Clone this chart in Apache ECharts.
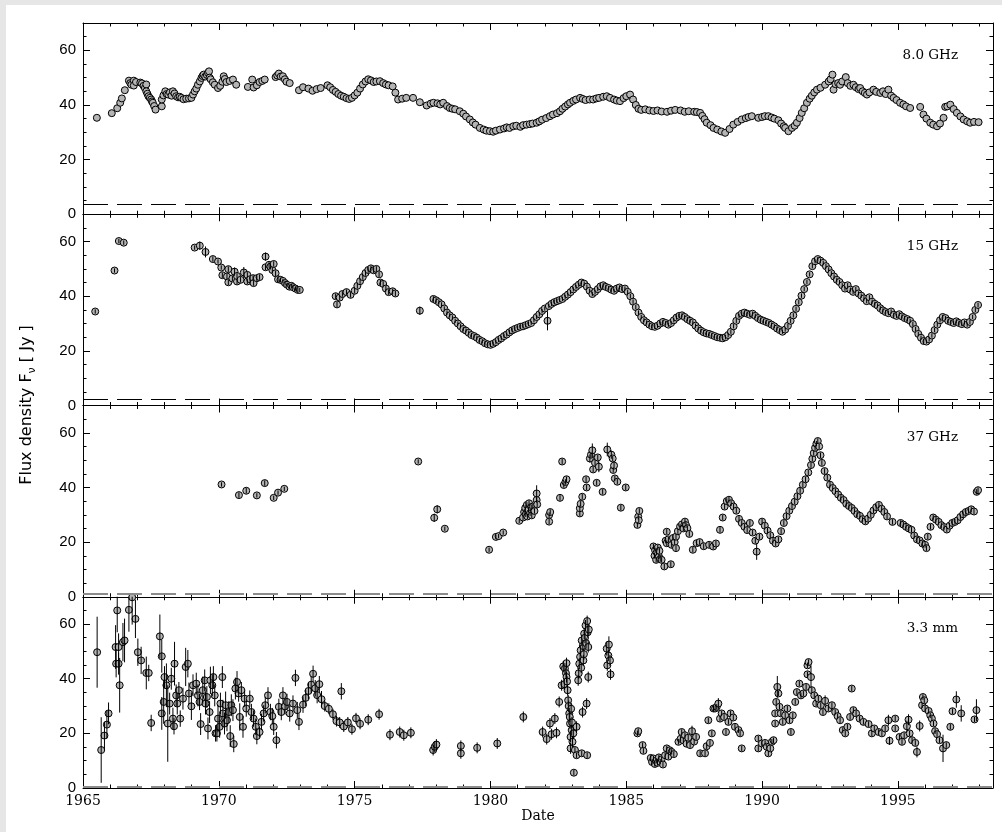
<!DOCTYPE html>
<html>
<head>
<meta charset="utf-8">
<script src="https://cdn.jsdelivr.net/npm/echarts@6/dist/echarts.min.js"></script>
<style>
html,body{margin:0;padding:0;background:#e6e6e6;}
#bg{position:absolute;left:6px;top:5px;width:996px;height:827px;background:#fff;}
#chart{position:absolute;left:0;top:0;width:1002px;height:832px;}
</style>
</head>
<body>
<div id="bg"></div>
<div id="chart"></div>
<script>
// ---------------- data ----------------
const X_MIN = 1965, X_MAX = 1998.5;
const Y_MIN = 0, Y_MAX = 70;
const xTickLabels = [1965, 1970, 1975, 1980, 1985, 1990, 1995];
const yTickLabels = [0, 20, 40, 60];
const panelNames = ['8.0 GHz', '15 GHz', '37 GHz', '3.3 mm'];
const baselines = [3.8, 2.3, 1.0, 0.6];

// 8.0 GHz : [date, flux]
const s8 = [
[1965.51,35.3],[1966.06,37.0],[1966.26,38.8],[1966.37,40.8],[1966.43,42.4],[1966.54,45.4],[1966.69,48.9],[1966.74,48.0],
[1966.78,47.4],[1966.87,48.9],[1966.87,47.1],[1966.95,48.4],[1967.11,48.2],[1967.17,47.9],[1967.23,47.0],[1967.28,46.2],
[1967.33,47.5],[1967.33,45.0],[1967.37,44.1],[1967.41,43.2],[1967.46,42.6],[1967.51,42.0],[1967.54,41.3],[1967.57,40.8],
[1967.62,39.6],[1967.67,38.3],[1967.90,39.5],[1967.90,42.0],[1967.96,43.5],[1968.03,45.0],[1968.08,44.0],[1968.14,43.8],
[1968.20,44.6],[1968.26,43.4],[1968.31,45.0],[1968.37,44.2],[1968.43,43.2],[1968.50,42.8],[1968.56,43.0],[1968.62,42.6],
[1968.70,42.1],[1968.80,42.3],[1968.90,42.4],[1968.99,42.6],[1969.05,43.8],[1969.11,45.0],[1969.17,46.0],[1969.23,47.4],
[1969.30,48.6],[1969.36,49.9],[1969.40,50.6],[1969.44,51.1],[1969.50,50.4],[1969.56,51.0],[1969.60,51.8],[1969.64,52.3],
[1969.66,50.0],[1969.70,49.4],[1969.78,48.3],[1969.85,47.4],[1969.97,46.2],[1970.05,47.0],[1970.13,48.5],[1970.18,50.5],
[1970.22,49.5],[1970.28,48.4],[1970.40,48.8],[1970.52,49.3],[1970.64,47.4],[1971.07,46.6],[1971.23,49.3],[1971.28,46.4],
[1971.40,47.2],[1971.50,48.4],[1971.60,48.8],[1971.69,49.3],[1972.09,50.2],[1972.15,50.8],[1972.21,51.5],[1972.28,50.4],
[1972.36,50.5],[1972.43,49.4],[1972.49,48.5],[1972.61,48.0],[1972.95,45.4],[1973.10,46.5],[1973.30,46.0],[1973.45,45.2],
[1973.60,45.8],[1973.75,46.2],[1974.00,47.2],[1974.10,46.5],[1974.20,45.5],[1974.30,44.8],[1974.40,44.0],[1974.50,43.4],
[1974.60,43.0],[1974.70,42.5],[1974.80,42.2],[1974.90,42.6],[1975.00,43.5],[1975.10,44.5],[1975.20,46.0],[1975.30,47.5],
[1975.40,48.6],[1975.50,49.4],[1975.60,49.0],[1975.70,48.4],[1975.80,48.6],[1975.93,48.7],[1976.05,48.0],[1976.15,47.5],
[1976.25,47.2],[1976.40,46.8],[1976.50,44.5],[1976.60,42.0],[1976.75,42.3],[1976.90,42.6],[1977.15,42.6],[1977.40,41.0],
[1977.65,39.8],[1977.80,40.5],[1977.90,40.8],[1978.05,40.6],[1978.15,40.2],[1978.26,40.8],[1978.40,39.6],[1978.50,38.9],
[1978.60,38.6],[1978.70,38.4],[1978.87,37.7],[1979.00,36.8],[1979.10,35.8],[1979.24,34.7],[1979.35,33.6],[1979.45,32.8],
[1979.61,31.6],[1979.75,31.0],[1979.85,30.6],[1979.98,30.4],[1980.10,30.2],[1980.20,30.6],[1980.35,31.0],[1980.50,31.4],
[1980.60,31.8],[1980.70,31.6],[1980.84,32.2],[1980.95,32.4],[1981.10,32.0],[1981.20,32.6],[1981.33,32.8],[1981.45,33.0],
[1981.55,33.2],[1981.70,33.5],[1981.80,34.0],[1981.90,34.6],[1982.05,35.2],[1982.19,35.9],[1982.30,36.5],[1982.45,37.0],
[1982.56,37.7],[1982.65,38.6],[1982.75,39.4],[1982.85,40.2],[1982.93,40.8],[1983.05,41.5],[1983.15,42.0],[1983.30,42.6],
[1983.40,42.2],[1983.50,41.8],[1983.65,42.0],[1983.78,42.0],[1983.90,42.4],[1984.00,42.6],[1984.15,43.0],[1984.28,43.2],
[1984.40,42.6],[1984.55,42.0],[1984.65,41.6],[1984.77,41.4],[1984.90,42.5],[1985.00,43.2],[1985.14,43.8],[1985.25,42.0],
[1985.35,40.0],[1985.45,38.6],[1985.55,38.2],[1985.70,38.4],[1985.85,38.0],[1986.00,37.8],[1986.15,38.0],[1986.30,37.6],
[1986.50,37.5],[1986.65,37.9],[1986.80,38.2],[1987.00,38.0],[1987.15,37.5],[1987.30,37.7],[1987.50,37.5],[1987.60,37.4],
[1987.72,37.1],[1987.80,36.0],[1987.88,34.8],[1987.96,33.5],[1988.10,32.6],[1988.21,31.6],[1988.35,31.0],[1988.50,30.3],
[1988.64,29.8],[1988.80,31.2],[1988.94,32.8],[1989.10,33.8],[1989.25,34.7],[1989.40,35.2],[1989.50,35.6],[1989.62,35.9],
[1989.86,35.3],[1990.00,35.6],[1990.10,35.9],[1990.23,35.9],[1990.35,35.4],[1990.45,35.0],[1990.60,34.4],[1990.70,33.2],
[1990.80,32.2],[1990.85,31.6],[1990.97,30.4],[1991.10,31.6],[1991.20,32.4],[1991.28,33.5],[1991.38,35.2],[1991.46,37.1],
[1991.55,38.8],[1991.65,40.8],[1991.75,42.3],[1991.83,43.4],[1991.92,44.6],[1992.02,45.6],[1992.15,46.3],[1992.32,47.4],
[1992.45,48.6],[1992.52,49.4],[1992.59,51.1],[1992.63,45.6],[1992.70,47.6],[1992.80,48.0],[1992.87,47.4],[1992.95,48.6],
[1993.08,50.2],[1993.15,48.0],[1993.25,47.0],[1993.36,47.4],[1993.45,46.5],[1993.55,45.8],[1993.61,46.2],[1993.70,45.0],
[1993.78,44.4],[1993.86,43.8],[1993.95,44.6],[1994.10,45.6],[1994.20,44.8],[1994.35,44.4],[1994.45,45.0],[1994.55,44.0],
[1994.65,45.6],[1994.75,43.4],[1994.84,42.6],[1994.95,41.8],[1995.08,40.8],[1995.20,40.2],[1995.30,39.5],[1995.45,38.9],
[1995.82,39.3],[1995.94,36.5],[1996.05,35.0],[1996.19,33.5],[1996.30,32.8],[1996.44,32.2],[1996.55,33.2],[1996.68,35.3],
[1996.74,39.3],[1996.82,39.5],[1996.93,40.1],[1997.05,38.5],[1997.17,37.1],[1997.30,35.8],[1997.42,34.7],[1997.55,34.0],
[1997.66,33.5],[1997.80,33.8],[1997.97,33.7]
];

// 15 GHz : [date, flux, error]
const s15 = [
[1965.45,34.4,0.8],[1966.16,49.4,0.8],[1966.32,60.2,0.8],[1966.50,59.6,0.8],[1969.11,57.8,0.8],[1969.30,58.5,1.5],[1969.51,56.2,2.0],
[1969.78,53.6,1.0],[1969.97,52.7,0.8],[1970.09,50.5,0.8],[1970.13,47.7,1.0],[1970.30,47.2,1.0],[1970.35,49.9,1.0],[1970.35,45.1,1.0],
[1970.50,46.5,1.0],[1970.58,49.0,1.5],[1970.67,45.4,1.0],[1970.67,47.4,1.0],[1970.80,46.0,1.0],[1970.92,48.7,2.0],[1971.05,47.8,1.0],
[1971.05,45.4,1.0],[1971.15,46.2,1.0],[1971.26,46.6,1.0],[1971.28,44.8,1.0],[1971.40,46.6,1.0],[1971.50,47.0,1.0],[1971.72,54.5,1.5],
[1971.72,50.6,1.0],[1971.85,51.5,1.0],[1971.90,50.8,1.0],[1971.97,49.6,1.0],[1972.02,51.8,1.0],[1972.09,48.4,1.0],[1972.18,46.2,1.0],
[1972.27,46.0,0.8],[1972.36,45.6,0.8],[1972.44,44.8,0.8],[1972.51,44.2,0.8],[1972.60,43.5,0.8],[1972.67,43.8,0.8],[1972.73,43.3,0.8],
[1972.82,42.8,0.8],[1972.91,42.3,0.8],[1972.98,42.3,0.8],[1974.30,40.0,1.0],[1974.35,37.0,1.0],[1974.45,39.5,1.0],[1974.55,40.8,1.0],
[1974.70,41.5,1.0],[1974.85,40.5,1.0],[1975.00,42.0,1.0],[1975.10,43.8,1.0],[1975.20,45.5,1.0],[1975.30,47.0,1.0],[1975.40,48.5,1.0],
[1975.50,49.6,1.0],[1975.60,50.2,1.0],[1975.70,49.5,1.0],[1975.80,50.0,1.0],[1975.90,48.0,1.0],[1975.95,45.0,1.0],[1976.05,44.5,1.0],
[1976.15,42.8,1.0],[1976.25,41.5,1.0],[1976.40,41.8,1.0],[1976.50,41.0,1.0],[1977.40,34.7,1.5],[1977.90,39.0,1.0],[1978.00,38.5,1.0],
[1978.10,37.8,0.8],[1978.20,37.0,0.8],[1978.30,35.5,0.8],[1978.40,34.0,0.8],[1978.50,33.0,0.8],[1978.60,32.2,0.8],[1978.70,31.0,0.8],
[1978.80,30.0,0.8],[1978.90,29.0,0.8],[1979.00,28.0,0.8],[1979.10,27.4,0.8],[1979.20,26.6,0.8],[1979.30,25.8,0.8],[1979.40,25.4,0.8],
[1979.50,24.8,0.8],[1979.60,24.0,0.8],[1979.70,23.5,0.8],[1979.80,22.8,0.8],[1979.90,22.4,0.8],[1980.00,22.2,0.8],[1980.10,22.6,0.8],
[1980.20,23.2,0.8],[1980.30,24.0,0.8],[1980.40,24.6,0.8],[1980.50,25.4,0.8],[1980.60,26.0,0.8],[1980.70,26.8,0.8],[1980.80,27.5,0.8],
[1980.90,28.0,0.8],[1981.00,28.4,0.8],[1981.10,28.8,0.8],[1981.20,29.0,0.8],[1981.30,29.4,0.8],[1981.40,29.8,0.8],[1981.50,30.2,0.8],
[1981.60,31.2,0.8],[1981.70,32.4,0.8],[1981.80,33.4,0.8],[1981.90,34.6,0.8],[1982.00,35.5,0.8],[1982.10,31.0,3.5],[1982.15,36.4,0.8],
[1982.25,37.2,0.8],[1982.35,37.8,0.8],[1982.45,38.2,0.8],[1982.55,38.6,0.8],[1982.65,39.0,0.8],[1982.75,39.8,0.8],[1982.85,40.6,0.8],
[1982.95,41.5,0.8],[1983.05,42.5,0.8],[1983.15,43.4,0.8],[1983.25,44.2,0.8],[1983.35,45.0,0.8],[1983.45,44.6,0.8],[1983.55,43.5,0.8],
[1983.65,42.0,0.8],[1983.75,40.8,0.8],[1983.85,41.6,0.8],[1983.95,42.6,0.8],[1984.05,43.6,0.8],[1984.15,44.0,0.8],[1984.25,43.4,0.8],
[1984.35,43.0,0.8],[1984.45,42.4,0.8],[1984.55,42.0,0.8],[1984.65,42.8,0.8],[1984.75,43.2,0.8],[1984.85,42.6,0.8],[1984.95,42.8,0.8],
[1985.05,41.6,0.8],[1985.15,40.0,0.8],[1985.25,38.0,0.8],[1985.35,36.0,0.8],[1985.45,34.0,0.8],[1985.55,32.4,0.8],[1985.65,31.2,0.8],
[1985.75,30.4,0.8],[1985.85,29.6,0.8],[1985.95,29.0,0.8],[1986.05,28.8,0.8],[1986.15,29.2,0.8],[1986.25,30.0,0.8],[1986.35,30.6,0.8],
[1986.45,30.2,0.8],[1986.55,29.6,0.8],[1986.65,30.2,0.8],[1986.75,31.2,0.8],[1986.85,32.2,0.8],[1986.95,32.8,0.8],[1987.05,33.0,0.8],
[1987.15,32.4,0.8],[1987.25,31.6,0.8],[1987.35,31.0,0.8],[1987.45,30.4,0.8],[1987.55,29.2,0.8],[1987.65,28.2,0.8],[1987.75,27.4,0.8],
[1987.85,26.8,0.8],[1987.95,26.4,0.8],[1988.05,26.2,0.8],[1988.15,25.8,0.8],[1988.25,25.4,0.8],[1988.35,25.0,0.8],[1988.45,24.8,0.8],
[1988.55,24.6,0.8],[1988.65,25.0,0.8],[1988.75,25.8,0.8],[1988.85,27.0,0.8],[1988.95,29.0,0.8],[1989.05,31.0,0.8],[1989.15,32.8,0.8],
[1989.25,33.6,0.8],[1989.35,34.0,0.8],[1989.45,33.6,0.8],[1989.55,33.2,0.8],[1989.65,33.6,0.8],[1989.75,32.8,0.8],[1989.85,32.0,0.8],
[1989.95,31.4,0.8],[1990.05,31.0,0.8],[1990.15,30.6,0.8],[1990.25,30.2,0.8],[1990.35,29.6,0.8],[1990.45,29.0,0.8],[1990.55,28.2,0.8],
[1990.65,27.6,0.8],[1990.75,27.0,0.8],[1990.85,27.8,0.8],[1990.95,29.2,0.8],[1991.05,31.0,0.8],[1991.15,33.0,0.8],[1991.25,35.4,0.8],
[1991.35,37.8,0.8],[1991.45,40.2,0.8],[1991.55,42.6,0.8],[1991.65,45.2,0.8],[1991.75,48.0,0.8],[1991.85,51.0,0.8],[1991.95,52.8,0.8],
[1992.05,53.6,0.8],[1992.15,53.0,0.8],[1992.25,52.2,0.8],[1992.35,51.0,0.8],[1992.45,49.8,0.8],[1992.55,48.4,0.8],[1992.65,47.2,0.8],
[1992.75,46.0,0.8],[1992.85,45.2,0.8],[1992.95,44.0,0.8],[1993.05,42.8,0.8],[1993.15,44.0,0.8],[1993.25,42.4,0.8],[1993.35,41.6,0.8],
[1993.45,42.6,0.8],[1993.55,41.0,0.8],[1993.65,40.2,0.8],[1993.75,39.2,0.8],[1993.85,38.2,0.8],[1993.95,39.6,0.8],[1994.05,38.0,0.8],
[1994.15,37.2,0.8],[1994.25,36.6,0.8],[1994.35,35.6,0.8],[1994.45,34.8,0.8],[1994.55,34.2,0.8],[1994.65,33.8,0.8],[1994.75,34.4,0.8],
[1994.85,33.2,0.8],[1994.95,32.8,0.8],[1995.05,33.4,0.8],[1995.15,32.6,0.8],[1995.25,32.0,0.8],[1995.35,31.6,0.8],[1995.45,31.0,0.8],
[1995.55,29.8,0.8],[1995.65,28.0,0.8],[1995.75,26.2,0.8],[1995.85,24.8,0.8],[1995.95,23.6,0.8],[1996.05,23.4,0.8],[1996.15,24.2,0.8],
[1996.25,25.6,0.8],[1996.35,27.6,0.8],[1996.45,29.6,0.8],[1996.55,31.2,0.8],[1996.65,32.4,0.8],[1996.75,32.0,0.8],[1996.85,31.0,0.8],
[1996.95,30.6,0.8],[1997.05,30.2,0.8],[1997.15,30.8,0.8],[1997.25,30.2,0.8],[1997.35,29.8,0.8],[1997.45,30.4,0.8],[1997.55,29.6,0.8],
[1997.65,30.6,0.8],[1997.75,32.4,0.8],[1997.85,35.0,0.8],[1997.95,36.8,0.8]
];

// 37 GHz : [date, flux, error]
const s37 = [
[1970.10,41.1,0.8],[1970.74,37.2,1.0],[1971.01,38.8,1.0],[1971.40,37.1,0.8],[1971.69,41.6,1.0],[1972.02,36.2,0.8],[1972.18,38.1,0.8],
[1972.41,39.5,0.8],[1977.34,49.5,0.8],[1977.93,28.9,1.5],[1978.04,32.0,1.5],[1978.32,24.9,0.8],[1979.95,17.2,0.8],[1980.20,21.9,0.8],
[1980.30,22.2,0.8],[1980.47,23.5,0.8],[1981.06,27.8,0.8],[1981.20,29.0,1.0],[1981.24,31.0,1.0],[1981.28,32.5,1.0],[1981.30,30.2,1.0],
[1981.34,33.6,1.0],[1981.36,29.4,1.0],[1981.40,31.8,1.0],[1981.42,34.2,1.0],[1981.46,30.6,1.0],[1981.50,32.8,1.0],[1981.52,29.8,1.0],
[1981.56,33.0,1.0],[1981.62,31.4,1.0],[1981.70,37.8,3.0],[1981.70,35.4,1.0],[1981.72,33.8,1.0],[1982.16,29.9,1.0],[1982.16,27.5,1.0],
[1982.20,31.0,1.0],[1982.56,36.2,1.0],[1982.64,49.5,1.0],[1982.70,40.9,1.0],[1982.76,42.0,1.0],[1982.80,43.0,1.0],[1983.29,30.5,1.0],
[1983.29,32.4,1.0],[1983.32,34.0,1.0],[1983.38,36.6,1.0],[1983.52,43.0,1.0],[1983.54,40.0,1.0],[1983.66,50.6,1.5],[1983.70,52.0,1.0],
[1983.75,53.6,2.5],[1983.78,46.6,1.0],[1983.85,49.0,1.0],[1983.91,41.7,1.0],[1983.95,51.0,1.0],[1983.99,47.6,2.0],[1984.13,38.4,1.0],
[1984.30,53.9,2.5],[1984.45,52.0,1.5],[1984.50,50.6,1.0],[1984.52,46.4,1.0],[1984.55,48.0,1.0],[1984.58,43.3,1.0],[1984.67,42.1,1.0],
[1984.80,32.6,1.0],[1984.98,40.0,1.0],[1985.41,26.3,1.0],[1985.44,29.3,1.0],[1985.48,31.4,1.0],[1985.46,28.0,1.0],[1986.00,18.4,1.0],
[1986.04,15.0,1.0],[1986.06,17.0,1.0],[1986.10,13.5,1.0],[1986.12,16.2,1.0],[1986.16,18.0,1.0],[1986.20,14.8,1.0],[1986.22,16.8,1.0],
[1986.25,13.8,1.0],[1986.30,13.5,1.0],[1986.40,11.1,1.0],[1986.45,20.5,1.0],[1986.49,23.8,1.0],[1986.49,19.6,1.0],[1986.55,21.0,1.0],
[1986.64,11.9,1.0],[1986.67,19.0,1.0],[1986.72,21.5,1.0],[1986.78,20.0,1.0],[1986.83,17.8,1.0],[1986.83,22.0,1.0],[1986.90,24.0,1.0],
[1986.98,25.7,1.0],[1987.05,26.5,1.0],[1987.10,25.0,1.0],[1987.16,27.5,1.0],[1987.20,26.2,1.0],[1987.25,25.1,1.0],[1987.32,23.0,1.0],
[1987.45,17.2,1.0],[1987.59,19.6,1.0],[1987.70,20.0,1.0],[1987.85,18.5,1.0],[1988.05,19.0,1.0],[1988.20,18.4,1.0],[1988.30,19.5,1.0],
[1988.45,24.5,1.0],[1988.55,29.0,1.0],[1988.62,33.0,1.0],[1988.70,35.0,1.0],[1988.78,35.5,1.0],[1988.86,34.2,1.0],[1988.95,33.0,1.0],
[1989.05,31.5,1.0],[1989.15,28.5,1.0],[1989.25,27.0,1.0],[1989.35,25.6,1.0],[1989.45,24.4,1.0],[1989.55,27.0,1.0],[1989.65,23.5,1.0],
[1989.75,20.5,1.0],[1989.80,16.5,3.0],[1989.90,22.0,1.0],[1990.00,27.5,1.0],[1990.10,26.0,1.0],[1990.20,24.2,1.0],[1990.30,22.5,1.0],
[1990.40,20.5,1.0],[1990.50,19.5,1.0],[1990.60,21.0,1.0],[1990.70,24.0,1.0],[1990.80,27.0,1.0],[1990.90,29.5,1.0],[1991.00,31.5,1.0],
[1991.10,33.2,1.0],[1991.20,34.8,1.0],[1991.30,36.8,1.0],[1991.40,38.8,1.0],[1991.50,41.0,1.0],[1991.60,43.0,1.0],[1991.70,45.5,1.0],
[1991.80,48.2,1.0],[1991.85,50.5,1.0],[1991.90,52.6,1.0],[1991.95,54.5,1.0],[1992.00,56.0,1.0],[1992.05,57.0,1.0],[1992.10,55.0,1.0],
[1992.15,51.8,1.0],[1992.20,49.0,1.0],[1992.30,46.0,1.0],[1992.40,43.6,1.0],[1992.50,41.0,1.0],[1992.60,39.8,1.0],[1992.70,38.6,1.0],
[1992.80,37.4,1.0],[1992.90,36.2,1.0],[1993.00,35.4,1.0],[1993.10,34.0,1.0],[1993.20,33.2,1.0],[1993.30,32.5,1.0],[1993.40,31.4,1.0],
[1993.50,30.2,1.0],[1993.60,29.6,1.0],[1993.70,28.4,1.0],[1993.80,27.6,1.0],[1993.90,28.6,1.0],[1994.00,30.0,1.0],[1994.10,31.6,1.0],
[1994.20,32.8,1.0],[1994.30,33.6,1.0],[1994.40,32.2,1.0],[1994.50,31.0,1.0],[1994.60,29.4,1.0],[1994.80,27.4,1.0],[1995.10,27.0,1.0],
[1995.20,26.4,1.0],[1995.30,25.6,1.0],[1995.40,25.0,1.0],[1995.50,24.5,1.0],[1995.60,22.4,1.0],[1995.70,21.0,1.0],[1995.80,20.6,1.0],
[1995.90,19.5,1.0],[1996.00,19.0,1.0],[1996.05,17.8,1.0],[1996.10,22.0,1.0],[1996.20,25.6,1.0],[1996.30,29.0,1.0],[1996.40,28.2,1.0],
[1996.50,27.4,1.0],[1996.60,26.2,1.0],[1996.70,25.5,1.0],[1996.80,24.6,1.0],[1996.90,26.0,1.0],[1997.00,27.0,1.0],[1997.10,27.4,1.0],
[1997.20,28.0,1.0],[1997.30,29.2,1.0],[1997.40,30.2,1.0],[1997.50,31.0,1.0],[1997.60,31.4,1.0],[1997.70,32.0,1.0],[1997.80,31.2,1.0],
[1997.90,38.4,1.0],[1997.95,39.0,1.0]
];

// 3.3 mm : [date, flux, error]
const s33 = [
[1965.52,49.7,13],[1965.67,13.9,12],[1965.79,19.2,5],[1965.88,23.2,5],[1965.94,27.3,4],[1966.20,51.6,8],[1966.22,45.5,5],[1966.26,65.0,8],
[1966.31,51.6,5],[1966.31,45.5,4],[1966.35,37.6,10],[1966.47,53.4,7],[1966.53,54.0,8],[1966.69,65.2,8],[1966.81,69.8,10],[1966.93,61.9,7],
[1967.02,49.7,5],[1967.14,46.7,5],[1967.33,42.1,6],[1967.42,42.1,3],[1967.51,23.8,3],[1967.83,55.5,8],[1967.90,48.2,6],[1967.90,27.3,6],
[1967.97,31.5,8],[1968.00,40.6,4],[1968.07,37.6,8],[1968.12,23.6,14],[1968.19,30.9,4],[1968.25,40.0,4],[1968.31,25.4,4],[1968.35,22.6,3],
[1968.37,45.5,8],[1968.43,33.9,4],[1968.47,30.9,4],[1968.53,35.8,3],[1968.58,25.4,3],[1968.68,32.7,4],[1968.78,44.3,7],[1968.86,45.5,5],
[1968.90,34.6,4],[1968.99,29.9,5],[1969.05,37.6,4],[1969.17,38.2,4],[1969.23,33.9,4],[1969.29,31.5,3],[1969.33,23.4,4],[1969.41,35.8,5],
[1969.48,39.4,4],[1969.51,30.9,4],[1969.56,33.3,4],[1969.60,21.8,4],[1969.66,27.8,4],[1969.69,39.4,5],[1969.76,37.6,4],[1969.80,40.6,4],
[1969.85,33.9,4],[1969.88,20.0,3],[1969.93,20.0,3],[1969.97,25.4,5],[1970.03,22.4,4],[1970.06,30.9,4],[1970.13,40.6,4],[1970.15,27.3,5],
[1970.21,23.6,4],[1970.25,30.3,5],[1970.30,24.8,4],[1970.37,27.8,4],[1970.42,19.0,4],[1970.46,30.3,4],[1970.52,28.5,4],[1970.55,16.1,3],
[1970.61,36.4,4],[1970.67,38.8,4],[1970.73,34.6,3],[1970.77,26.0,5],[1970.83,35.8,3],[1970.89,22.4,4],[1970.95,32.7,3],[1971.01,29.1,3],
[1971.14,32.7,3],[1971.20,27.8,3],[1971.28,25.4,3],[1971.36,22.4,3],[1971.40,19.0,3],[1971.50,20.5,2],[1971.57,24.2,3],[1971.65,27.3,3],
[1971.71,30.3,3],[1971.81,33.9,3],[1971.90,27.8,3],[1971.97,26.3,3],[1972.02,22.4,3],[1972.12,17.5,3],[1972.21,29.7,3],[1972.30,27.8,3],
[1972.36,33.9,3],[1972.44,29.9,3],[1972.51,31.5,3],[1972.61,27.3,3],[1972.73,30.9,3],[1972.82,40.3,3],[1972.89,28.5,3],[1972.95,24.2,3],
[1973.10,30.5,3],[1973.20,33.0,3],[1973.30,35.5,3],[1973.40,37.8,3],[1973.47,41.8,3],[1973.55,36.5,3],[1973.62,34.0,3],[1973.70,38.0,3],
[1973.78,32.5,3],[1973.90,30.0,2],[1974.05,29.0,2],[1974.20,27.0,2],[1974.33,24.5,2],[1974.45,24.0,2],[1974.51,35.4,3],[1974.60,22.5,2],
[1974.75,24.0,2],[1974.90,21.5,2],[1975.05,25.5,2],[1975.20,23.5,2],[1975.50,25.0,2],[1975.90,27.0,2],[1976.30,19.5,2],[1976.66,20.5,2],
[1976.81,19.3,2],[1977.07,20.2,2],[1977.89,13.9,2],[1977.95,15.1,2],[1978.01,15.9,2],[1978.91,15.4,2],[1978.91,12.7,2],[1979.51,14.7,2],
[1980.25,16.3,2],[1981.21,26.0,2],[1981.92,20.5,2],[1982.07,17.9,2],[1982.19,23.6,2],[1982.25,19.7,2],[1982.37,25.4,2],[1982.43,20.2,2],
[1982.53,31.5,2],[1982.62,37.6,2],[1982.68,44.5,2],[1982.72,38.0,2],[1982.74,43.7,2],[1982.78,42.0,2],[1982.80,45.7,2],[1982.80,40.6,2],
[1982.82,39.0,2],[1982.84,35.8,2],[1982.86,32.1,2],[1982.88,30.0,2],[1982.90,27.3,2],[1982.92,26.0,2],[1982.93,23.6,2],[1982.95,18.7,2],
[1982.95,14.5,2],[1982.97,29.0,2],[1982.99,21.2,2],[1983.00,24.0,2],[1983.02,16.9,2],[1983.05,20.0,2],[1983.07,5.6,1],[1983.11,13.9,1],
[1983.17,12.0,1],[1983.17,22.4,2],[1983.23,39.4,2],[1983.25,42.0,2],[1983.27,45.5,2],[1983.30,48.0,2],[1983.32,50.4,2],[1983.34,44.0,2],
[1983.36,12.7,1],[1983.36,54.0,2],[1983.39,27.8,2],[1983.40,52.0,2],[1983.42,46.7,2],[1983.44,49.0,2],[1983.45,56.5,2],[1983.48,55.0,2],
[1983.50,59.5,2],[1983.52,53.0,2],[1983.54,30.9,2],[1983.56,61.1,2],[1983.56,12.0,1],[1983.58,57.0,2],[1983.60,51.6,2],[1983.60,40.6,2],
[1983.62,58.0,2],[1984.28,51.0,2.5],[1984.30,44.9,2],[1984.34,48.5,2],[1984.36,52.5,3],[1984.40,46.7,2],[1984.42,41.6,2],[1985.41,20.0,1],
[1985.44,20.8,1],[1985.60,15.7,1],[1985.63,13.6,1],[1985.90,11.0,1],[1985.95,9.5,1],[1986.00,10.8,1],[1986.05,8.8,1],[1986.10,10.0,1],
[1986.15,9.2,1],[1986.20,11.2,1],[1986.25,9.6,1],[1986.30,10.5,1],[1986.35,8.6,1],[1986.43,12.0,1],[1986.49,14.5,1],[1986.55,11.5,1],
[1986.60,13.8,1],[1986.67,13.2,1],[1986.75,12.4,1],[1986.92,16.9,1],[1987.00,18.0,1],[1987.04,20.5,1],[1987.10,17.5,1],[1987.16,19.3,1],
[1987.22,16.2,1],[1987.28,18.4,1],[1987.35,15.7,1],[1987.42,20.8,2],[1987.50,17.0,1],[1987.57,18.7,1],[1987.72,12.7,1],[1987.90,12.7,1],
[1987.96,15.3,1],[1988.02,24.8,1],[1988.08,16.5,1],[1988.15,20.0,1],[1988.21,29.1,1],[1988.27,29.1,1],[1988.33,29.7,1],[1988.39,30.9,2],
[1988.45,25.4,1],[1988.51,27.3,1],[1988.60,26.0,1],[1988.67,20.5,1],[1988.76,24.2,1],[1988.84,27.3,1],[1988.94,25.8,1],[1989.00,22.4,1],
[1989.13,21.2,1],[1989.19,20.0,1],[1989.25,14.5,1],[1989.86,18.1,1],[1989.86,14.5,1],[1989.99,16.3,1],[1990.11,16.5,1],[1990.17,15.1,1],
[1990.23,12.7,1],[1990.30,14.5,1],[1990.36,16.9,1],[1990.42,17.5,1],[1990.48,27.3,1],[1990.48,23.6,1],[1990.52,31.5,1],[1990.56,37.0,4],
[1990.60,34.6,1],[1990.64,29.7,1],[1990.69,27.3,1],[1990.76,24.2,1],[1990.85,26.6,1],[1990.93,29.1,1],[1991.01,24.8,1],[1991.06,20.5,1],
[1991.13,26.6,1],[1991.22,31.5,1],[1991.28,35.1,1],[1991.37,38.2,1],[1991.43,33.9,1],[1991.52,34.6,1],[1991.62,37.0,1],[1991.67,44.9,1],
[1991.71,46.1,1],[1991.67,41.6,1],[1991.80,40.6,4],[1991.83,35.8,1],[1991.92,33.9,1],[1991.99,30.9,1],[1992.07,32.7,1],[1992.16,30.3,1],
[1992.24,27.8,1],[1992.32,31.9,2],[1992.44,29.1,1],[1992.57,30.3,1],[1992.69,27.8,1],[1992.78,26.3,1],[1992.87,24.8,1],[1992.97,21.2,1],
[1993.06,20.0,1],[1993.14,22.4,1],[1993.24,26.0,1],[1993.30,36.4,1],[1993.36,28.5,1],[1993.46,27.3,1],[1993.59,25.4,1],[1993.73,24.2,1],
[1993.92,23.4,1],[1994.04,20.0,1],[1994.13,21.8,1],[1994.29,20.5,1],[1994.41,20.0,1],[1994.53,21.8,1],[1994.65,24.8,2],[1994.69,17.3,1.5],
[1994.90,25.4,1],[1994.90,21.8,1],[1995.06,18.7,1],[1995.15,16.9,1],[1995.23,19.3,1],[1995.33,22.6,2],[1995.39,25.0,2],[1995.43,20.0,1],
[1995.52,17.5,1],[1995.64,16.5,1],[1995.70,13.2,2],[1995.80,22.7,2],[1995.89,30.3,1],[1995.92,33.3,1],[1995.97,32.1,1],[1996.00,29.1,1],
[1996.13,28.2,1],[1996.19,26.6,1],[1996.25,25.4,1],[1996.31,23.6,1],[1996.37,20.8,1],[1996.44,19.7,1],[1996.53,17.5,1],[1996.66,14.5,5],
[1996.78,15.7,1],[1996.93,22.4,1],[1997.01,28.1,1],[1997.15,32.4,3],[1997.33,27.3,3],[1997.82,25.1,1],[1997.89,28.5,4]
];

const panelData = [s8, s15, s37, s33];

// ---------------- layout / style ----------------
const GRID_TOP = 23, GRID_H = 191.25, GRID_LEFT = 83, GRID_RIGHT = 9;
const SERIF = '"DejaVu Serif", serif';
const SANS = '"Liberation Sans", Arial, sans-serif';

const grids = [], xAxes = [], yAxes = [], series = [];

for (let i = 0; i < 4; i++) {
  grids.push({left: GRID_LEFT, right: GRID_RIGHT, top: GRID_TOP + i * GRID_H, height: GRID_H,
              show: false, containLabel: false, outerBoundsMode: 'none'});
  const last = (i === 3);
  const xBase = {type: 'value', gridIndex: i, min: X_MIN, max: X_MAX, splitLine: {show: false}};
  xAxes.push(Object.assign({}, xBase, {
    position: 'bottom', interval: 5,
    axisLine: {show: true, onZero: false, lineStyle: {color: '#000', width: 1}},
    axisTick: {show: true, inside: true, length: 7, lineStyle: {color: '#000', width: 1}},
    axisLabel: {show: last, margin: 6, color: '#000', fontFamily: SERIF, fontSize: 14,
                formatter: v => (xTickLabels.indexOf(v) >= 0 ? String(v) : '')},
    name: last ? 'Date' : '', nameLocation: 'middle', nameGap: 21,
    nameTextStyle: {fontFamily: SERIF, fontSize: 14, color: '#000'}
  }));
  xAxes.push(Object.assign({}, xBase, {
    position: 'bottom', interval: 1,
    axisLine: {show: false, onZero: false},
    axisTick: {show: true, inside: true, length: 3.5, lineStyle: {color: '#000', width: 1}},
    axisLabel: {show: false}
  }));
  xAxes.push(Object.assign({}, xBase, {
    position: 'top', interval: 5,
    axisLine: {show: true, onZero: false, lineStyle: {color: '#000', width: 1}},
    axisTick: {show: true, inside: true, length: 7, lineStyle: {color: '#000', width: 1}},
    axisLabel: {show: false}
  }));
  xAxes.push(Object.assign({}, xBase, {
    position: 'top', interval: 1,
    axisLine: {show: false, onZero: false},
    axisTick: {show: true, inside: true, length: 3.5, lineStyle: {color: '#000', width: 1}},
    axisLabel: {show: false}
  }));

  const yBase = {type: 'value', gridIndex: i, min: Y_MIN, max: Y_MAX, splitLine: {show: false}};
  yAxes.push(Object.assign({}, yBase, {
    position: 'left', interval: 20,
    axisLine: {show: true, onZero: false, lineStyle: {color: '#000', width: 1}},
    axisTick: {show: true, inside: true, length: 7, lineStyle: {color: '#000', width: 1}},
    axisLabel: {show: true, margin: 7, color: '#000', fontFamily: SANS, fontSize: 15,
                formatter: v => (yTickLabels.indexOf(v) >= 0 ? String(v) : '')}
  }));
  yAxes.push(Object.assign({}, yBase, {
    position: 'left', interval: 5,
    axisLine: {show: false, onZero: false},
    axisTick: {show: true, inside: true, length: 3.5, lineStyle: {color: '#000', width: 1}},
    axisLabel: {show: false}
  }));
  yAxes.push(Object.assign({}, yBase, {
    position: 'right', interval: 20,
    axisLine: {show: true, onZero: false, lineStyle: {color: '#000', width: 1}},
    axisTick: {show: true, inside: true, length: 7, lineStyle: {color: '#000', width: 1}},
    axisLabel: {show: false}
  }));
  yAxes.push(Object.assign({}, yBase, {
    position: 'right', interval: 5,
    axisLine: {show: false, onZero: false},
    axisTick: {show: true, inside: true, length: 3.5, lineStyle: {color: '#000', width: 1}},
    axisLabel: {show: false}
  }));

  const gray = (i >= 2);
  series.push({
    type: 'scatter', xAxisIndex: i * 4, yAxisIndex: i * 4, data: panelData[i],
    symbol: 'circle', symbolSize: 7, clip: true, z: 3,
    itemStyle: {color: '#b4b4b4', borderColor: '#000', borderWidth: 1, opacity: 1},
    markLine: {
      silent: true, symbol: 'none', label: {show: false},
      lineStyle: {color: gray ? '#8c8c8c' : '#000', width: gray ? 2 : 1, type: [25, 9]},
      data: [{yAxis: baselines[i]}]
    }
  });
  if (panelData[i][0].length > 2) {
    series.push({
      type: 'custom', xAxisIndex: i * 4, yAxisIndex: i * 4, data: panelData[i], clip: true, z: 4,
      encode: {x: 0, y: 1},
      renderItem: function (params, api) {
        const x = api.value(0), y = api.value(1), e = api.value(2);
        const p1 = api.coord([x, y - e]);
        const p2 = api.coord([x, y + e]);
        return {type: 'line', shape: {x1: p1[0], y1: p1[1], x2: p2[0], y2: p2[1]},
                style: {stroke: '#000', lineWidth: 1}};
      }
    });
  }
}

const graphics = panelNames.map((n, i) => ({
  type: 'text', right: 44, top: GRID_TOP + i * GRID_H + 25,
  style: {text: n, font: '13.5px ' + SERIF, fill: '#000'}
}));
graphics.push({
  type: 'text', x: 27, y: 405, rotation: Math.PI / 2,
  style: {
    text: '{a|Flux density F}{s|ν}{a| [ Jy ]}',
    align: 'center', verticalAlign: 'middle',
    rich: {
      a: {fontFamily: '"DejaVu Sans", sans-serif', fontSize: 16, fill: '#000', lineHeight: 22, verticalAlign: 'middle'},
      s: {fontFamily: '"DejaVu Sans", sans-serif', fontSize: 11, fill: '#000', lineHeight: 22, verticalAlign: 'bottom'}
    }
  }
});

const chart = echarts.init(document.getElementById('chart'), null, {renderer: 'canvas'});
chart.setOption({
  animation: false,
  backgroundColor: 'transparent',
  grid: grids, xAxis: xAxes, yAxis: yAxes, series: series,
  graphic: graphics
});
</script>
</body>
</html>
